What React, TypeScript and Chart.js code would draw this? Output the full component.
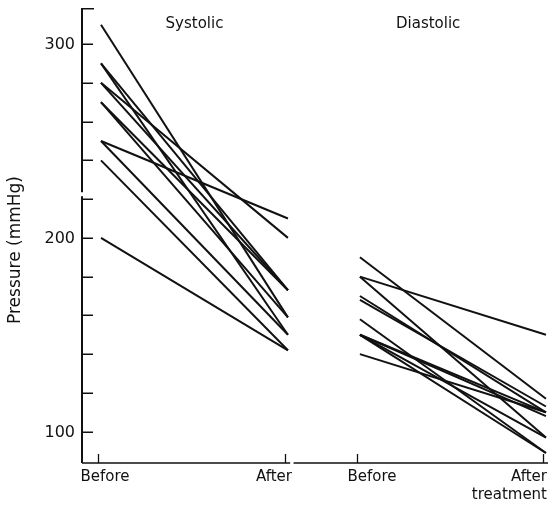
import React, { useEffect, useRef } from "react";
import { Chart, registerables } from "chart.js";

Chart.register(...registerables);

// ---- data ----
const phaseLabels = ["Before", "After", "Before", "After"];
const phaseSubLabel = "treatment";
const panelTitles = ["Systolic", "Diastolic"];
const yAxisTitle = "Pressure (mmHg)";

const systolicBefore = [310, 290, 290, 280, 280, 270, 270, 250, 250, 240, 200];
const systolicAfter = [159, 173, 150, 200, 173, 173, 159, 210, 150, 142, 142];
const diastolicBefore = [190, 180, 180, 170, 168, 158, 150, 150, 150, 140, 150];
const diastolicAfter = [117, 150, 97, 110, 113, 89, 110, 108, 89, 110, 97];

const yTickValues = [100, 120, 140, 160, 180, 200, 220, 240, 260, 280, 300];
const yTickLabels = [100, 200, 300];

// category positions on the linear x scale
const xPhase = [0, 1, 1.385, 2.38];
const xTitleAt = [0.5, 1.75];
const X_MIN = -0.1016;
const X_MAX = 2.391;
const Y_MIN = 83.85;
const Y_MAX = 318.6;

const FONT = '"DejaVu Sans", sans-serif';

const axesPlugin = {
  id: "oldAxes",
  afterDatasetsDraw(chart: any) {
    const { ctx, chartArea, scales } = chart;
    const xs = scales.x;
    const ys = scales.y;
    const left = chartArea.left;
    const bottom = chartArea.bottom;
    const top = chartArea.top;
    const right = chartArea.right;
    ctx.save();
    ctx.strokeStyle = "#111";
    ctx.fillStyle = "#111";
    ctx.lineCap = "butt";

    // y axis line (with a small break just above 220)
    ctx.lineWidth = 2;
    const gapTop = ys.getPixelForValue(223.5);
    const gapBot = ys.getPixelForValue(221.5);
    ctx.beginPath();
    ctx.moveTo(left, top);
    ctx.lineTo(left, gapTop);
    ctx.moveTo(left, gapBot);
    ctx.lineTo(left, bottom);
    ctx.stroke();
    // cap at top
    ctx.lineWidth = 1.5;
    ctx.beginPath();
    ctx.moveTo(left, top + 0.75);
    ctx.lineTo(left + 12, top + 0.75);
    ctx.stroke();

    // y ticks (inward)
    ctx.lineWidth = 1.5;
    yTickValues.forEach((v) => {
      const py = Math.round(ys.getPixelForValue(v)) + 0.25;
      ctx.beginPath();
      ctx.moveTo(left, py);
      ctx.lineTo(left + 11, py);
      ctx.stroke();
    });
    ctx.font = "16px " + FONT;
    ctx.textAlign = "right";
    ctx.textBaseline = "middle";
    yTickLabels.forEach((v) => {
      ctx.fillText(String(v), 75, ys.getPixelForValue(v) + 1);
    });

    // x axis line with a break between the two panels
    ctx.lineWidth = 1.6;
    const gx1 = xs.getPixelForValue(1.012);
    const gx2 = xs.getPixelForValue(1.03);
    ctx.beginPath();
    ctx.moveTo(left, bottom);
    ctx.lineTo(gx1, bottom);
    ctx.moveTo(gx2, bottom);
    ctx.lineTo(right, bottom);
    ctx.stroke();

    // x ticks (upward)
    ctx.lineWidth = 1.3;
    xPhase.forEach((v) => {
      const px = Math.round(xs.getPixelForValue(v)) - 2.5;
      ctx.beginPath();
      ctx.moveTo(px, bottom);
      ctx.lineTo(px, bottom - 9);
      ctx.stroke();
    });

    // x labels
    ctx.font = "15px " + FONT;
    ctx.textBaseline = "middle";
    const labelShift = [4, -14, 12, 0];
    phaseLabels.forEach((lab, i) => {
      const px = xs.getPixelForValue(xPhase[i]);
      if (i === 3) {
        ctx.textAlign = "right";
        ctx.fillText(lab, 547, bottom + 14);
        ctx.fillText(phaseSubLabel, 547, bottom + 32);
      } else {
        ctx.textAlign = "center";
        ctx.fillText(lab, px + labelShift[i], bottom + 14);
      }
    });

    // panel titles
    ctx.font = "15px " + FONT;
    ctx.textAlign = "center";
    panelTitles.forEach((t, i) => {
      ctx.fillText(t, xs.getPixelForValue(xTitleAt[i]), 24);
    });

    // y axis title
    ctx.font = "17px " + FONT;
    ctx.translate(16, 250);
    ctx.rotate(-Math.PI / 2);
    ctx.textAlign = "center";
    ctx.textBaseline = "middle";
    ctx.fillText(yAxisTitle, 0, 0);
    ctx.restore();
  },
};

export default function App() {
  const ref = useRef<HTMLCanvasElement | null>(null);
  useEffect(() => {
    const prevMargin = document.body.style.margin;
    document.body.style.margin = "0";
    if (!ref.current) return;
    const datasets: any[] = [];
    systolicBefore.forEach((b, i) => {
      datasets.push({
        data: [
          { x: xPhase[0], y: b },
          { x: xPhase[1], y: systolicAfter[i] },
        ],
      });
    });
    diastolicBefore.forEach((b, i) => {
      datasets.push({
        data: [
          { x: xPhase[2], y: b },
          { x: xPhase[3], y: diastolicAfter[i] },
        ],
      });
    });
    datasets.forEach((d) => {
      d.borderColor = "#111";
      d.borderWidth = 2;
      d.pointRadius = 0;
      d.fill = false;
      d.tension = 0;
    });
    const chart = new Chart(ref.current, {
      type: "line",
      data: { datasets },
      plugins: [axesPlugin],
      options: {
        animation: false,
        responsive: false,
        devicePixelRatio: 1,
        layout: { padding: { top: 8, left: 0, right: 0, bottom: 0 } },
        plugins: { legend: { display: false }, tooltip: { enabled: false } },
        scales: {
          x: {
            type: "linear",
            min: X_MIN,
            max: X_MAX,
            grid: { display: false },
            border: { display: false },
            ticks: { display: false },
            afterFit: (s: any) => {
              s.height = 45;
            },
          },
          y: {
            type: "linear",
            min: Y_MIN,
            max: Y_MAX,
            grid: { display: false },
            border: { display: false },
            ticks: { display: false },
            afterFit: (s: any) => {
              s.width = 82;
            },
          },
        },
      },
    });
    return () => {
      chart.destroy();
      document.body.style.margin = prevMargin;
    };
  }, []);
  return (
    <div style={{ position: "absolute", left: 0, top: 0, width: 548, height: 508, background: "#fff" }}>
      <canvas ref={ref} width={548} height={508} style={{ display: "block" }} />
    </div>
  );
}
